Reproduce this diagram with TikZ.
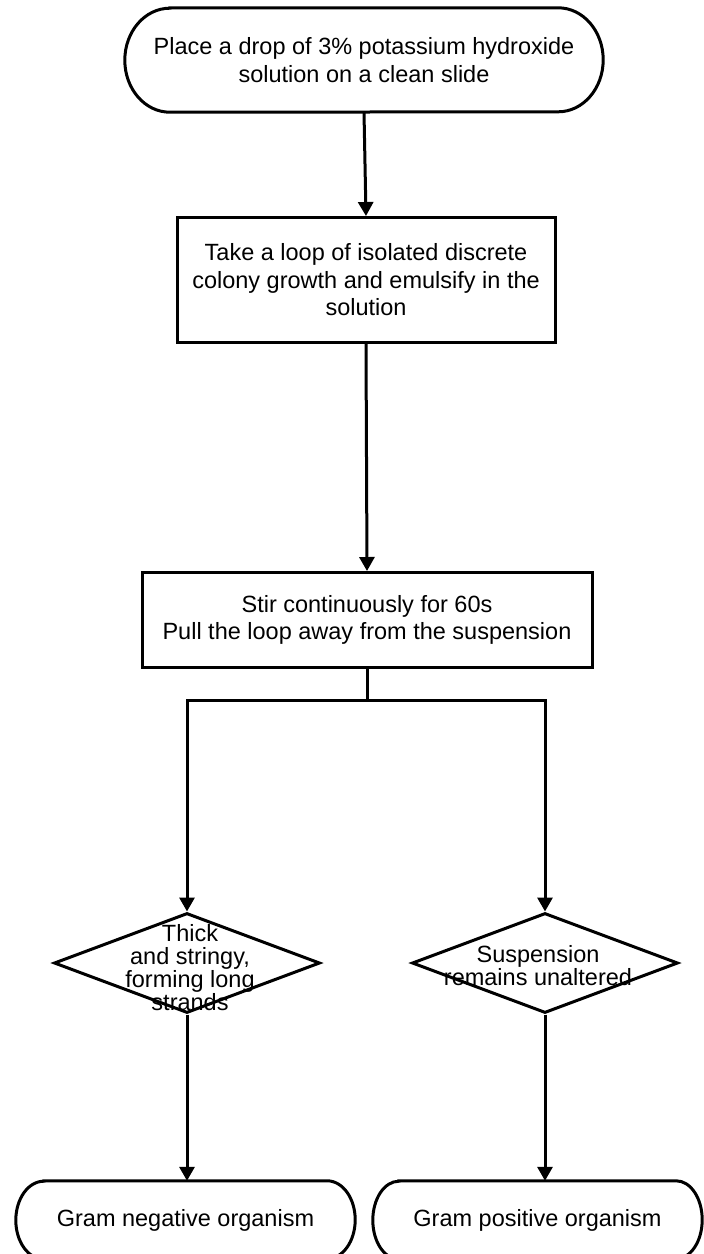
\documentclass[tikz,border=0pt]{standalone}
\usepackage{fontspec}
\setmainfont{Liberation Sans}
\usetikzlibrary{shapes.geometric,arrows.meta}
\newcommand{\stadiumoutline}[3]{%
  \draw[line width=3pt] ([xshift=#2]#1.north west) -- ([xshift=-#2]#1.north east)
    arc[start angle=90, end angle=-90, x radius=#2, y radius=#3]
    -- ([xshift=#2]#1.south west)
    arc[start angle=270, end angle=90, x radius=#2, y radius=#3] -- cycle;}
\begin{document}
\begin{tikzpicture}[x=1pt,y=-1pt,
  txt/.style={font=\fontsize{23.5}{27.5}\selectfont, align=center, inner sep=0pt},
  dtxt/.style={font=\fontsize{23.5}{23}\selectfont, align=center, inner sep=0pt},
  term/.style={txt, draw=none},
  procbox/.style={txt, draw, line width=3pt},
  decision/.style={shape=diamond, draw, line width=3pt, inner sep=0pt},
  arr/.style={line width=3pt, -{Triangle[length=14pt,width=15pt]}},
  conn/.style={line width=3pt}]
\useasboundingbox (0,0) rectangle (704,1254);
% nodes
\node[term, minimum width=478pt, minimum height=104pt] (T1) at (364,60)
  {Place a drop of 3\% potassium hydroxide\\solution on a clean slide};
\stadiumoutline{T1}{45pt}{52pt}
\node[procbox, minimum width=378pt, minimum height=125pt] (B2) at (366,280)
  {Take a loop of isolated discrete\\colony growth and emulsify in the\\solution};
\node[procbox, minimum width=450pt, minimum height=95pt] (B3) at (367,620)
  {Stir continuously for 60s\\Pull the loop away from the suspension};
\node[decision, minimum width=266pt, minimum height=100pt] (D1) at (187,963) {};
\node[dtxt] (D1t) at (190,968) {Thick\\and stringy,\\forming long\\strands};
\node[decision, minimum width=266pt, minimum height=100pt] (D2) at (545,963) {};
\node[dtxt] (D2t) at (538,966) {Suspension\\remains unaltered};
\node[term, minimum width=339pt, minimum height=78pt] (TL) at (185.5,1220)
  {Gram negative organism};
\stadiumoutline{TL}{28pt}{39pt}
\node[term, minimum width=329pt, minimum height=78pt] (TR) at (537.5,1220)
  {Gram positive organism};
\stadiumoutline{TR}{26pt}{39pt}
\coordinate (J) at (367,700);
% connectors
\draw[arr] (T1.south) -- (B2.north);
\draw[arr] (B2.south) -- (B3.north);
\draw[conn] (B3.south) -- (J);
\draw[arr] (J) -| (D1.north);
\draw[arr] (J) -| (D2.north);
\draw[arr] (D1.south) -- (D1.south |- TL.north);
\draw[arr] (D2.south) -- (D2.south |- TR.north);
\end{tikzpicture}
\end{document}
